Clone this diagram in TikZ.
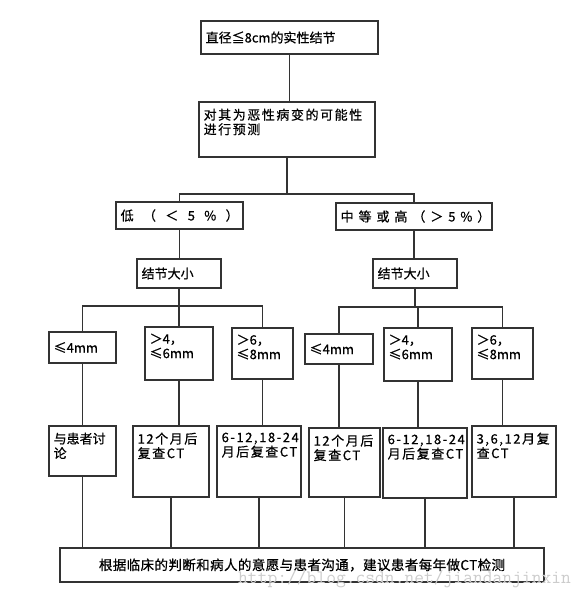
\documentclass[tikz,border=0pt]{standalone}
\usepackage{fontspec}
\setmainfont[FakeBold=0.7]{Noto Sans CJK SC}
\usetikzlibrary{calc}

\begin{document}
\begin{tikzpicture}[x=1pt,y=-1pt,
  box/.style={draw=black!80,line width=1.1pt,inner sep=0pt},
  wire/.style={draw=black!80,line width=1.1pt},
  txt/.style={anchor=north west,align=left,inner xsep=5pt,inner ysep=7pt,font=\fontsize{13}{14.5}\selectfont},
  ln/.style={anchor=west,inner xsep=5pt,font=\fontsize{13}{14.5}\selectfont},
  spaced/.style={font=\fontsize{13}{14.5}\selectfont\addfontfeature{LetterSpace=12}}]
  \useasboundingbox (0,0) rectangle (588,594);
  % top of the tree
  \node[box,minimum width=177,minimum height=33] (top) at (289.5,37.5) {};
  \node[ln] (topt) at (top.west) {直径≦8cm的实性结节};
  \node[box,minimum width=176,minimum height=55] (pred) at (287,129.5) {};
  \node[txt,spaced] (predt) at (pred.north west) {对其为恶性病变的可能性\\进行预测};
  % risk groups
  \node[box,minimum width=127,minimum height=27] (low) at (179.5,215.5) {};
  \node[ln,font=\fontsize{13}{14.5}\selectfont\addfontfeature{LetterSpace=72}] (lowt) at (low.west) {低（＜5\%）};
  \node[box,minimum width=156,minimum height=27] (high) at (414,216.5) {};
  \node[ln,font=\fontsize{13}{14.5}\selectfont\addfontfeature{LetterSpace=38}] (hight) at (high.west) {中等或高（＞5\%）};
  \node[box,minimum width=84,minimum height=29] (sizeL) at (179,273.5) {};
  \node[ln] (sizeLt) at (sizeL.west) {结节大小};
  \node[box,minimum width=84,minimum height=29] (sizeR) at (415,273.5) {};
  \node[ln] (sizeRt) at (sizeR.west) {结节大小};
  % nodule sizes
  \node[box,minimum width=67,minimum height=31] (L1) at (82.5,347.5) {};
  \node[ln] (L1t) at (L1.west) {≤4mm};
  \node[box,minimum width=68,minimum height=53] (L2) at (179,353.5) {};
  \node[txt] (L2t) at (L2.north west) {＞4，\\≤6mm};
  \node[box,minimum width=61,minimum height=51] (L3) at (262.5,353.5) {};
  \node[txt] (L3t) at (L3.north west) {＞6，\\≤8mm};
  \node[box,minimum width=68,minimum height=30] (R1) at (339,349) {};
  \node[ln] (R1t) at (R1.west) {≤4mm};
  \node[box,minimum width=68,minimum height=53] (R2) at (418,354.5) {};
  \node[txt] (R2t) at (R2.north west) {＞4，\\≤6mm};
  \node[box,minimum width=61,minimum height=51] (R3) at (502.5,353.5) {};
  \node[txt] (R3t) at (R3.north west) {＞6，\\≤8mm};
  % follow-up
  \node[box,minimum width=67,minimum height=50] (A1) at (82.5,451) {};
  \node[txt] (A1t) at (A1.north west) {与患者讨\\论};
  \node[box,minimum width=76,minimum height=71] (A2) at (171,461.5) {};
  \node[txt,spaced] (A2t) at (A2.north west) {12个月后\\复查CT};
  \node[box,minimum width=84,minimum height=71] (A3) at (259,461.5) {};
  \node[txt,spaced] (A3t) at (A3.north west) {6-12,18-24\\月后复查CT};
  \node[box,minimum width=71,minimum height=69] (B1) at (344.5,462.5) {};
  \node[txt,spaced] (B1t) at (B1.north west) {12个月后\\复查CT};
  \node[box,minimum width=84,minimum height=70] (B2) at (425,463) {};
  \node[txt,spaced] (B2t) at (B2.north west) {6-12,18-24\\月后复查CT};
  \node[box,minimum width=84,minimum height=71] (B3) at (514,461.5) {};
  \node[txt,spaced] (B3t) at (B3.north west) {3,6,12月复\\查CT};
  \node[box,minimum width=484,minimum height=34] (bottom) at (302,565) {};
  \node[font=\fontsize{13.5}{15}\selectfont\addfontfeature{LetterSpace=3}] (bottomt) at (bottom) {根据临床的判断和病人的意愿与患者沟通，建议患者每年做CT检测};
  % connectors
  \coordinate (jT) at (287,194);
  \coordinate (jL) at (180,306);
  \coordinate (jR) at (414,307);
  \draw[wire] (top.south) -- (top.south |- pred.north);
  \draw[wire] (pred.south) -- (pred.south |- jT);
  \draw[wire] (low.north) -- (low.north |- jT) -| (high.north);
  \draw[wire] (low.south) -- (low.south |- sizeL.north);
  \draw[wire] (high.south) -- (high.south |- sizeR.north);
  \draw[wire] (sizeL.south) -- (sizeL.south |- jL);
  \draw[wire] (L1.north) -- (L1.north |- jL) -| (L3.north);
  \draw[wire] (L2.north) -- (L2.north |- jL);
  \draw[wire] (sizeR.south) -- (sizeR.south |- jR);
  \draw[wire] (R1.north) -- (R1.north |- jR) -| (R3.north);
  \draw[wire] (R2.north) -- (R2.north |- jR);
  \draw[wire] (L1.south) -- (L1.south |- A1.north);
  \draw[wire] (L2.south) -- (L2.south |- A2.north);
  \draw[wire] (L3.south) -- (L3.south |- A3.north);
  \draw[wire] (R1.south) -- (R1.south |- B1.north);
  \draw[wire] (R2.south) -- (R2.south |- B2.north);
  \draw[wire] (R3.south) -- (R3.south |- B3.north);
  \foreach \n in {A1,A2,A3,B1,B2,B3}
    \draw[wire] (\n.south) -- (\n.south |- bottom.north);
  % watermark
  \node[anchor=base west,inner sep=0pt,text=gray!40,font=\ttfamily\fontsize{19}{19}\selectfont] (wm) at (238,583) {http://blog.csdn.net/jiandanjinxin};
\end{tikzpicture}
\end{document}
